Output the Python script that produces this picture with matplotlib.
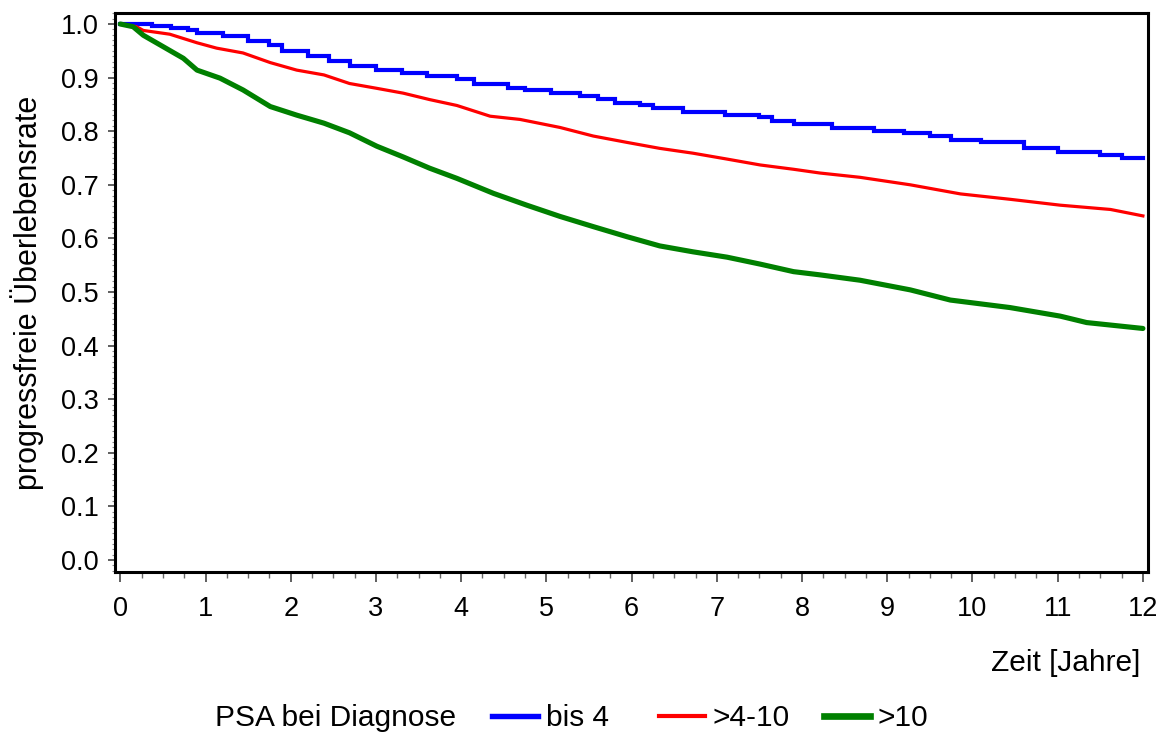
import matplotlib
matplotlib.use("Agg")
import matplotlib.pyplot as plt
from matplotlib.ticker import MultipleLocator, FormatStrFormatter
from matplotlib.lines import Line2D

plt.rcParams['font.family'] = ['Liberation Sans', 'DejaVu Sans']

# ---- data ----
blue_t = [0, 0.37, 0.6, 0.8, 0.9, 1.2, 1.5, 1.75, 1.9, 2.2, 2.45, 2.7, 3.0, 3.3, 3.6,
          3.95, 4.15, 4.55, 4.75, 5.05, 5.4, 5.6, 5.8, 6.1, 6.25, 6.6, 7.1, 7.5, 7.65,
          7.9, 8.35, 8.85, 9.2, 9.5, 9.75, 10.1, 10.6, 11.0, 11.5, 11.75, 12.0]
blue_v = [1.0, 0.997, 0.993, 0.989, 0.983, 0.977, 0.968, 0.961, 0.950, 0.940, 0.931,
          0.922, 0.915, 0.909, 0.903, 0.897, 0.889, 0.881, 0.876, 0.871, 0.866, 0.860,
          0.853, 0.849, 0.843, 0.836, 0.830, 0.826, 0.819, 0.813, 0.806, 0.801, 0.796,
          0.792, 0.783, 0.779, 0.769, 0.762, 0.756, 0.750, 0.750]

red_t = [0, 0.19, 0.27, 0.58, 0.9, 1.13, 1.44, 1.76, 2.07, 2.39, 2.69, 3.01, 3.32, 3.63,
         3.95, 4.34, 4.69, 5.16, 5.55, 5.95, 6.33, 6.72, 7.12, 7.51, 7.9, 8.21, 8.68,
         9.27, 9.86, 10.44, 11.03, 11.62, 12.0]
red_v = [1.0, 0.995, 0.988, 0.981, 0.965, 0.955, 0.946, 0.928, 0.914, 0.905, 0.889,
         0.880, 0.871, 0.859, 0.848, 0.828, 0.822, 0.807, 0.791, 0.779, 0.768, 0.759,
         0.748, 0.737, 0.729, 0.722, 0.714, 0.700, 0.683, 0.673, 0.662, 0.654, 0.642]

green_t = [0, 0.15, 0.27, 0.5, 0.74, 0.9, 1.17, 1.44, 1.76, 2.07, 2.39, 2.69, 3.01, 3.32,
           3.63, 3.95, 4.38, 4.77, 5.16, 5.55, 5.95, 6.33, 6.72, 7.12, 7.51, 7.9, 8.21,
           8.68, 9.27, 9.74, 10.44, 11.03, 11.34, 12.0]
green_v = [1.0, 0.995, 0.979, 0.958, 0.936, 0.914, 0.899, 0.877, 0.846, 0.830, 0.815,
           0.797, 0.772, 0.752, 0.731, 0.712, 0.684, 0.662, 0.641, 0.622, 0.603, 0.586,
           0.575, 0.565, 0.552, 0.538, 0.532, 0.522, 0.504, 0.485, 0.471, 0.455, 0.443,
           0.432]

labels = ["bis 4", ">4-10", ">10"]
colors = ["#0000FF", "#FF0000", "#008000"]
widths = [3.0, 2.3, 3.7]
legend_title = "PSA bei Diagnose"
xlabel = "Zeit [Jahre]"
ylabel = "progressfreie Überlebensrate"

# ---- figure ----
fig = plt.figure(figsize=(11.68, 7.36), dpi=100)
ax = fig.add_axes([0.0987, 0.2228, 0.8842, 0.7595])

l1, = ax.plot(blue_t, blue_v, drawstyle='steps-post', color=colors[0], lw=widths[0],
              solid_joinstyle='miter')
l2, = ax.plot(red_t, red_v, color=colors[1], lw=widths[1])
l3, = ax.plot(green_t, green_v, color=colors[2], lw=widths[2], solid_capstyle='round')

ax.set_xlim(-0.059, 12.06)
ax.set_ylim(-0.0224, 1.0205)

ax.xaxis.set_major_locator(MultipleLocator(1))
ax.xaxis.set_minor_locator(MultipleLocator(0.25))
ax.yaxis.set_major_locator(MultipleLocator(0.1))
ax.yaxis.set_minor_locator(MultipleLocator(0.01))
ax.yaxis.set_major_formatter(FormatStrFormatter('%.1f'))

for s in ax.spines.values():
    s.set_linewidth(2.2)
    s.set_color('black')

ax.tick_params(axis='x', which='major', length=7, width=1.2, color='#444444',
               labelsize=19.5, pad=10)
ax.tick_params(axis='x', which='minor', length=4, width=1.0, color='#666666')
ax.tick_params(axis='y', which='major', length=5, width=1.2, color='#444444',
               labelsize=19.5, pad=7)
ax.tick_params(axis='y', which='minor', length=2, width=0.8, color='#888888')

ax.set_ylabel(ylabel, fontsize=22, labelpad=10)
ax.yaxis.set_label_coords(-0.069, 0.5)
fig.text(1140 / 1168, 1 - 663 / 736, xlabel, fontsize=21.5, ha='right', va='center')

# ---- legend ----
ly = 1 - 718 / 736
fig.text(215 / 1168, ly, legend_title, fontsize=21.5, ha='left', va='center')
handles = [l1, l2, l3]
leg_x = [492 / 1168, 659 / 1168, 824 / 1168]
for h, lab, c, w, x in zip(handles, labels, colors, widths, leg_x):
    proxy = Line2D([], [], color=c, lw=w * 1.3)
    leg = fig.legend([proxy], [lab], loc='center left', bbox_to_anchor=(x, ly),
                     frameon=False, fontsize=21.5, handlelength=1.55,
                     handletextpad=0.25, borderpad=0, borderaxespad=0)

fig.savefig("out.png", dpi=100)
